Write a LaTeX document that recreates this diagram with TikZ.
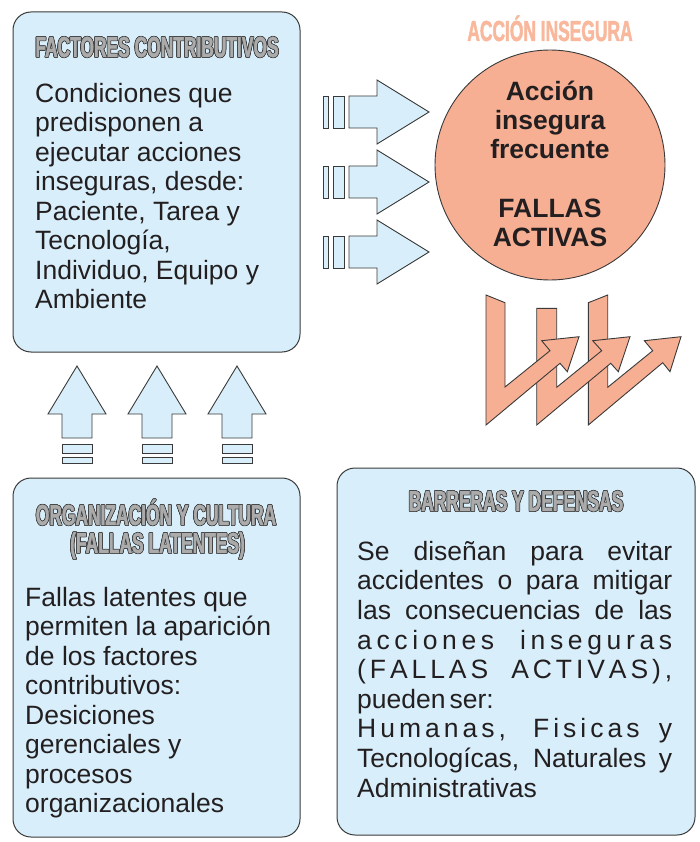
\documentclass[tikz,border=0pt]{standalone}
\usepackage{fontspec}
\setmainfont{Liberation Sans}
\newfontfamily\condfont[FakeStretch=0.6,FakeBold=1.5]{Liberation Sans Bold}
\definecolor{boxblue}{HTML}{D8EFFB}
\definecolor{edge}{HTML}{3A3A3A}
\definecolor{salmon}{HTML}{F7AF93}
\definecolor{salmontitle}{HTML}{F9B79C}
\definecolor{oldark}{HTML}{3A3A3A}
\definecolor{ollight}{HTML}{ABABAB}
\definecolor{ink}{HTML}{231F20}
\newcommand\olshift[3]{\rlap{\kern#1\raisebox{#2}{\textcolor{oldark}{#3}}}}
\newcommand\oltext[1]{\olshift{-.7pt}{0pt}{#1}\olshift{.7pt}{0pt}{#1}\olshift{0pt}{.7pt}{#1}\olshift{0pt}{-.7pt}{#1}\olshift{-.5pt}{-.5pt}{#1}\olshift{.5pt}{.5pt}{#1}\olshift{-.5pt}{.5pt}{#1}\olshift{.5pt}{-.5pt}{#1}\textcolor{ollight}{#1}}
\newcommand\firstline{\rule{0pt}{22pt}}
\begin{document}
\begin{tikzpicture}[x=1pt,y=-1pt,
  boxstyle/.style={draw=edge, line width=1pt, fill=boxblue, rounded corners=18pt, rectangle, inner sep=0pt},
  blockarrow/.style={draw=edge, line width=0.9pt, fill=boxblue, line join=miter},
  zig/.style={draw=edge, line width=0.9pt, fill=salmon, line join=miter},
  titletext/.style={inner sep=0pt, anchor=base, font=\condfont\fontsize{29}{31}\selectfont},
  bodytext/.style={inner sep=0pt, anchor=north west, align=left, text=ink, font=\fontsize{26.5}{29.5}\selectfont},
]
\useasboundingbox (0,0) rectangle (700,842);
\fill[white] (0,0) rectangle (700,842);

% boxes
\node[boxstyle, minimum width=287pt, minimum height=340pt] (box1) at (156.5,182) {};
\node[boxstyle, minimum width=287pt, minimum height=359pt] (box2) at (156.5,657.5) {};
\node[boxstyle, minimum width=358pt, minimum height=367pt] (box3) at (516,651.5) {};

% titles
\node[titletext] (t1) at (157,57) {\oltext{FACTORES CONTRIBUTIVOS}};
\node[titletext] (t2a) at (156,525) {\oltext{ORGANIZACIÓN Y CULTURA}};
\node[titletext] (t2b) at (157.5,553) {\oltext{(FALLAS LATENTES)}};
\node[titletext] (t3) at (516,511) {\oltext{BARRERAS Y DEFENSAS}};
\node[titletext, text=salmontitle] (t4) at (550,41) {ACCIÓN INSEGURA};

% body texts
\node[bodytext] (b1) at (35,80) {\firstline Condiciones que\\predisponen a\\ejecutar acciones\\inseguras, desde:\\Paciente, Tarea y\\Tecnología,\\Individuo, Equipo y\\Ambiente};
\node[bodytext] (b2) at (25,584) {\firstline Fallas latentes que\\permiten la aparición\\de los factores\\contributivos:\\Desiciones\\gerenciales y\\procesos\\organizacionales};
\node[bodytext, font=\fontsize{26.5}{29.6}\selectfont] (b3) at (357,538) {%
\firstline\makebox[315pt][s]{Se diseñan para evitar}\\
\makebox[315pt][s]{accidentes o para mitigar}\\
\makebox[315pt][s]{las consecuencias de las}\\
\makebox[315pt][s]{a\hfil c\hfil c\hfil i\hfil o\hfil n\hfil e\hfil s\hfil\hfil\hfil\hfil\ i\hfil n\hfil s\hfil e\hfil g\hfil u\hfil r\hfil a\hfil s}\\
\makebox[315pt][s]{(\hfil F\hfil A\hfil L\hfil L\hfil A\hfil S\hfil\hfil\hfil\hfil\ A\hfil C\hfil T\hfil I\hfil V\hfil A\hfil S\hfil )\hfil ,}\\
pueden\hspace{4pt}ser:\\
\makebox[315pt][s]{H\hfil u\hfil m\hfil a\hfil n\hfil a\hfil s\hfil ,\hfil\hfil\hfil\hfil\hfil\ F\hfil i\hfil s\hfil i\hfil c\hfil a\hfil s\hfil\hfil\hfil\ y}\\
\makebox[315pt][s]{Tecnologícas, Naturales y}\\
Administrativas};

% circle
\node[circle, draw=edge, line width=0.9pt, fill=salmon, minimum size=230pt, inner sep=0pt] (circ) at (550,165) {};
\node[inner sep=0pt, anchor=north, align=center, text=ink, font=\bfseries\fontsize{26.5}{29.3}\selectfont] (ctext) at (550,78) {\firstline Acción\\insegura\\frecuente\\[29.3pt]FALLAS\\ACTIVAS};

% right block arrows
\foreach \yc/\nm in {112/ra1,182/ra2,252/ra3}{
  \draw[blockarrow] (323,\yc-16) rectangle (328,\yc+16);
  \draw[blockarrow] (333,\yc-16) rectangle (344,\yc+16);
  \draw[blockarrow] (349,\yc-16) -- (377,\yc-16) -- (377,\yc-32) -- (429,\yc) -- (377,\yc+32) -- (377,\yc+16) -- (349,\yc+16) -- cycle;
  \coordinate (\nm) at (429,\yc);
}

% up block arrows
\foreach \xc/\nm in {77/ua1,157/ua2,237/ua3}{
  \draw[blockarrow] (\xc-15,438) -- (\xc-15,414) -- (\xc-29,414) -- (\xc,366) -- (\xc+29,414) -- (\xc+15,414) -- (\xc+15,438) -- cycle;
  \draw[blockarrow] (\xc-15,444) rectangle (\xc+15,453);
  \draw[blockarrow] (\xc-15,457) rectangle (\xc+15,463);
  \coordinate (\nm) at (\xc,366);
}

% zigzag arrows
\draw[zig] (588.3,302.7) -- (607.7,295) -- (607.7,387.3) -- (652.7,350.7) -- (644.3,340.7) -- (681,336.7) -- (670,371.7) -- (662.7,362.7) -- (588.3,425) -- cycle;
\draw[zig] (536.7,308.3) -- (556.7,308.3) -- (556.7,387.3) -- (601.7,350.7) -- (592.7,340.7) -- (630,336.7) -- (618.3,371.7) -- (610.7,363.3) -- (536.7,425) -- cycle;
\draw[zig] (486,295) -- (505,302.7) -- (505,387) -- (550,350.7) -- (541.7,340.7) -- (579,336.7) -- (567.3,371.7) -- (560,363.3) -- (486,425) -- cycle;
\end{tikzpicture}
\end{document}
